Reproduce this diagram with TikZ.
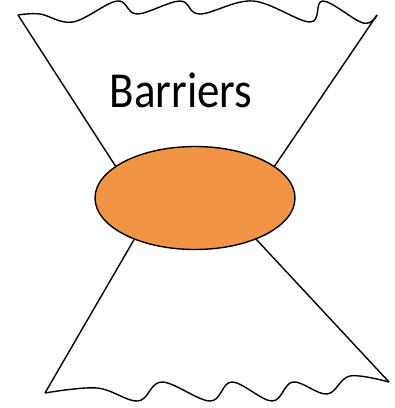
\documentclass[tikz,border=0pt]{standalone}
\usepackage{fontspec}
\setmainfont{Carlito}
\usetikzlibrary{shapes.geometric}

\definecolor{core}{RGB}{241,148,67}

\begin{document}
\begin{tikzpicture}[x=1pt,y=-1pt,line width=1.4pt]
\useasboundingbox (0,0) rectangle (395,408);

\coordinate (tl) at (18,15);
\coordinate (tr) at (377,15);
\coordinate (bl) at (45,393);
\coordinate (br) at (389,382);
\coordinate (ml) at (118,170);
\coordinate (mr) at (272,170);
\coordinate (nl) at (135,238);
\coordinate (nr) at (255,238);

\draw (tl) -- (ml);
\draw (tr) -- (mr);
\draw (bl) -- (nl);
\draw (br) -- (nr);

% wavy edges
\draw[line join=round] plot[smooth,tension=0.6] coordinates {(tl) (40,14) (73,22) (117,1) (137,14) (180,1) (200,14) (253,1) (310,22) (323,1) (363,23) (tr)};
\draw[line join=round] plot[smooth,tension=0.6] coordinates {(bl) (97,388) (138,401) (162,382) (210,401) (232,382) (272,401) (293,382) (327,394) (350,376) (br)};

\node[ellipse,draw,fill=core,minimum width=200pt,minimum height=103pt,inner sep=0pt] (core) at (195,198) {};

\node[font=\fontsize{45}{54}\selectfont,yscale=1.12,transform shape] (label) at (181,90) {Barriers};
\end{tikzpicture}
\end{document}
